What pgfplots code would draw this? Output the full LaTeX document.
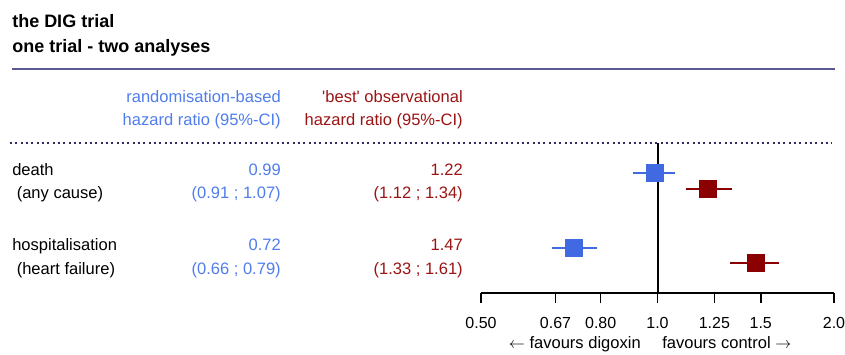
\documentclass[border=0pt]{standalone}
\usepackage{fontspec}
\setmainfont{Liberation Sans}[Ligatures=TeXOff]
\usepackage{pgfplots}
\pgfplotsset{compat=1.18}
\definecolor{rblue}{RGB}{65,105,225}
\definecolor{dred}{RGB}{139,0,0}
\definecolor{tblue}{RGB}{80,125,235}
\definecolor{tred}{RGB}{155,20,20}
\definecolor{lpurple}{RGB}{90,90,145}
\definecolor{dnavy}{RGB}{45,45,100}
\begin{document}
\begin{tikzpicture}[x=0.75pt,y=-0.75pt,
  t/.style={inner sep=0pt, font=\fontsize{12.4}{15}\selectfont},
  h/.style={inner sep=0pt, anchor=base west, font=\bfseries\fontsize{13.5}{16}\selectfont}]
\useasboundingbox (0,0) rectangle (845,354);
\begin{axis}[
  at={(360.75pt,-219.75pt)}, anchor=south west,
  scale only axis, width=264.75pt, height=112.5pt,
  xmode=log, log basis x=2,
  xmin=0.5, xmax=2, ymin=-293, ymax=-143,
  axis x line=bottom, axis y line=none,
  x axis line style={-, line width=1.1pt},
  xtick={0.5,0.67,0.8,1,1.25,1.5,2},
  xticklabels={0.50,0.67,0.80,1.0,1.25,1.5,2.0},
  minor xtick={},
  tick align=outside, major tick length=7.5pt,
  xtick style={black, line width=1.1pt},
  xticklabel style={inner sep=0pt, anchor=base, font=\fontsize{12}{14}\selectfont, yshift=-19pt},
  clip=false,
]
\addplot[black, line width=1.5pt] coordinates {(1,-293) (1,-143)};
\addplot[rblue, line width=1.5pt] coordinates {(0.91,-173) (1.07,-173)};
\addplot[rblue, line width=1.5pt] coordinates {(0.66,-248) (0.79,-248)};
\addplot[dred, line width=1.5pt] coordinates {(1.12,-189) (1.34,-189)};
\addplot[dred, line width=1.5pt] coordinates {(1.33,-263) (1.61,-263)};
\addplot[only marks, mark=square*, mark size=6.4pt, rblue] coordinates {(0.99,-173) (0.72,-248)};
\addplot[only marks, mark=square*, mark size=6.4pt, dred] coordinates {(1.22,-189) (1.47,-263)};
\end{axis}
\node[h] at (12,27) {the DIG trial};
\node[h] at (12,52) {one trial - two analyses};
\draw[lpurple, line width=1.5pt] (12,69) -- (835,69);
\node[t, anchor=base east, text=tblue] at (281,102) {randomisation-based};
\node[t, anchor=base east, text=tblue] at (281,125) {hazard ratio (95\%-CI)};
\node[t, anchor=base east, text=tred] at (463,102) {'best' observational};
\node[t, anchor=base east, text=tred] at (463,125) {hazard ratio (95\%-CI)};
\draw[dnavy, line width=1.2pt, dash pattern=on 1.5pt off 2.5pt] (10,143) -- (832,143);
\node[t, anchor=base west] at (12,175) {death};
\node[t, anchor=base west] at (16.5,198) {(any cause)};
\node[t, anchor=base west] at (12,250) {hospitalisation};
\node[t, anchor=base west] at (16.5,274) {(heart failure)};
\node[t, anchor=base east, text=tblue] at (281,175) {0.99};
\node[t, anchor=base east, text=tblue] at (281,198) {(0.91 ; 1.07)};
\node[t, anchor=base east, text=tblue] at (281,250) {0.72};
\node[t, anchor=base east, text=tblue] at (281,274) {(0.66 ; 0.79)};
\node[t, anchor=base east, text=tred] at (463,175) {1.22};
\node[t, anchor=base east, text=tred] at (463,198) {(1.12 ; 1.34)};
\node[t, anchor=base east, text=tred] at (463,250) {1.47};
\node[t, anchor=base east, text=tred] at (463,274) {(1.33 ; 1.61)};
\node[t, anchor=base east] at (641,348) {$\leftarrow$ favours digoxin};
\node[t, anchor=base west] at (662,348) {favours control $\rightarrow$};
\end{tikzpicture}
\end{document}
